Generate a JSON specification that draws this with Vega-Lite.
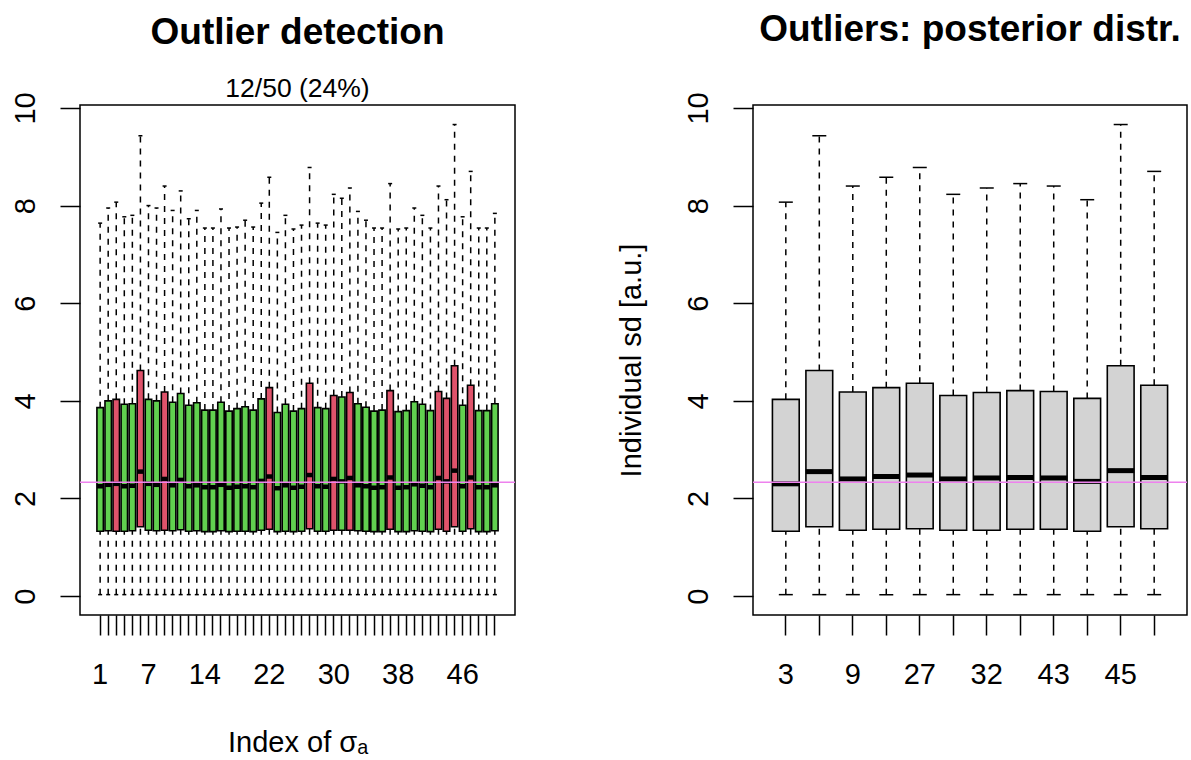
{
  "$schema": "https://vega.github.io/schema/vega-lite/v6.json",
  "background": "white",
  "padding": {"left": 10, "top": 10, "right": 0, "bottom": 0},
  "spacing": 99,
  "config": {
    "font": "Liberation Sans",
    "view": {"stroke": "black", "strokeWidth": 1.5},
    "axis": {"domain": false, "grid": false, "tickColor": "black", "tickWidth": 1.5, "tickSize": 20, "labelFont": "Liberation Sans", "labelFontSize": 29, "labelColor": "black", "titleColor": "black", "titleFont": "Liberation Sans", "titleFontSize": 29, "titleFontWeight": "normal", "labelOverlap": false, "labelFlush": false},
    "tick": {"opacity": 1},
    "title": {"font": "Liberation Sans", "fontSize": 37, "fontWeight": "bold", "color": "black", "subtitleFont": "Liberation Sans", "subtitleFontSize": 26.5, "subtitleColor": "black", "anchor": "middle", "frame": "group"}
  },
  "datasets": {
    "sd": [
      {"i": 1, "q1": 1.33, "med": 2.25, "q3": 3.86, "hi": 7.64, "lo": 0.03, "out": false},
      {"i": 2, "q1": 1.34, "med": 2.28, "q3": 4.00, "hi": 7.95, "lo": 0.03, "out": false},
      {"i": 3, "q1": 1.33, "med": 2.30, "q3": 4.03, "hi": 8.07, "lo": 0.03, "out": true},
      {"i": 4, "q1": 1.33, "med": 2.25, "q3": 3.93, "hi": 7.77, "lo": 0.03, "out": false},
      {"i": 5, "q1": 1.34, "med": 2.26, "q3": 3.94, "hi": 7.80, "lo": 0.03, "out": false},
      {"i": 6, "q1": 1.42, "med": 2.55, "q3": 4.62, "hi": 9.43, "lo": 0.03, "out": true},
      {"i": 7, "q1": 1.35, "med": 2.30, "q3": 4.03, "hi": 8.00, "lo": 0.03, "out": false},
      {"i": 8, "q1": 1.34, "med": 2.28, "q3": 4.00, "hi": 7.95, "lo": 0.03, "out": false},
      {"i": 9, "q1": 1.35, "med": 2.40, "q3": 4.18, "hi": 8.40, "lo": 0.03, "out": true},
      {"i": 10, "q1": 1.34, "med": 2.27, "q3": 3.97, "hi": 7.90, "lo": 0.03, "out": false},
      {"i": 11, "q1": 1.36, "med": 2.38, "q3": 4.15, "hi": 8.30, "lo": 0.03, "out": false},
      {"i": 12, "q1": 1.33, "med": 2.25, "q3": 3.91, "hi": 7.73, "lo": 0.03, "out": false},
      {"i": 13, "q1": 1.34, "med": 2.27, "q3": 3.96, "hi": 7.90, "lo": 0.03, "out": false},
      {"i": 14, "q1": 1.32, "med": 2.23, "q3": 3.81, "hi": 7.54, "lo": 0.03, "out": false},
      {"i": 15, "q1": 1.32, "med": 2.23, "q3": 3.81, "hi": 7.54, "lo": 0.03, "out": false},
      {"i": 16, "q1": 1.34, "med": 2.28, "q3": 3.97, "hi": 7.93, "lo": 0.03, "out": false},
      {"i": 17, "q1": 1.32, "med": 2.22, "q3": 3.79, "hi": 7.54, "lo": 0.03, "out": false},
      {"i": 18, "q1": 1.33, "med": 2.24, "q3": 3.84, "hi": 7.56, "lo": 0.03, "out": false},
      {"i": 19, "q1": 1.33, "med": 2.25, "q3": 3.88, "hi": 7.70, "lo": 0.03, "out": false},
      {"i": 20, "q1": 1.32, "med": 2.23, "q3": 3.81, "hi": 7.56, "lo": 0.03, "out": false},
      {"i": 21, "q1": 1.35, "med": 2.36, "q3": 4.04, "hi": 8.05, "lo": 0.03, "out": false},
      {"i": 22, "q1": 1.37, "med": 2.45, "q3": 4.27, "hi": 8.58, "lo": 0.03, "out": true},
      {"i": 23, "q1": 1.32, "med": 2.21, "q3": 3.76, "hi": 7.45, "lo": 0.03, "out": false},
      {"i": 24, "q1": 1.33, "med": 2.27, "q3": 3.93, "hi": 7.80, "lo": 0.03, "out": false},
      {"i": 25, "q1": 1.32, "med": 2.22, "q3": 3.79, "hi": 7.52, "lo": 0.03, "out": false},
      {"i": 26, "q1": 1.33, "med": 2.24, "q3": 3.84, "hi": 7.60, "lo": 0.03, "out": false},
      {"i": 27, "q1": 1.38, "med": 2.48, "q3": 4.36, "hi": 8.78, "lo": 0.03, "out": true},
      {"i": 28, "q1": 1.33, "med": 2.25, "q3": 3.86, "hi": 7.64, "lo": 0.03, "out": false},
      {"i": 29, "q1": 1.33, "med": 2.24, "q3": 3.84, "hi": 7.60, "lo": 0.03, "out": false},
      {"i": 30, "q1": 1.35, "med": 2.40, "q3": 4.11, "hi": 8.23, "lo": 0.03, "out": true},
      {"i": 31, "q1": 1.35, "med": 2.35, "q3": 4.08, "hi": 8.15, "lo": 0.03, "out": false},
      {"i": 32, "q1": 1.35, "med": 2.42, "q3": 4.17, "hi": 8.36, "lo": 0.03, "out": true},
      {"i": 33, "q1": 1.34, "med": 2.27, "q3": 3.94, "hi": 7.88, "lo": 0.03, "out": false},
      {"i": 34, "q1": 1.33, "med": 2.25, "q3": 3.87, "hi": 7.70, "lo": 0.03, "out": false},
      {"i": 35, "q1": 1.32, "med": 2.22, "q3": 3.79, "hi": 7.54, "lo": 0.03, "out": false},
      {"i": 36, "q1": 1.32, "med": 2.23, "q3": 3.81, "hi": 7.54, "lo": 0.03, "out": false},
      {"i": 37, "q1": 1.37, "med": 2.43, "q3": 4.21, "hi": 8.45, "lo": 0.03, "out": true},
      {"i": 38, "q1": 1.32, "med": 2.22, "q3": 3.78, "hi": 7.52, "lo": 0.03, "out": false},
      {"i": 39, "q1": 1.32, "med": 2.23, "q3": 3.80, "hi": 7.54, "lo": 0.03, "out": false},
      {"i": 40, "q1": 1.34, "med": 2.29, "q3": 3.98, "hi": 7.95, "lo": 0.03, "out": false},
      {"i": 41, "q1": 1.33, "med": 2.26, "q3": 3.93, "hi": 7.80, "lo": 0.03, "out": false},
      {"i": 42, "q1": 1.32, "med": 2.23, "q3": 3.80, "hi": 7.54, "lo": 0.03, "out": false},
      {"i": 43, "q1": 1.37, "med": 2.42, "q3": 4.19, "hi": 8.40, "lo": 0.03, "out": true},
      {"i": 44, "q1": 1.33, "med": 2.35, "q3": 4.05, "hi": 8.12, "lo": 0.03, "out": true},
      {"i": 45, "q1": 1.42, "med": 2.57, "q3": 4.72, "hi": 9.66, "lo": 0.03, "out": true},
      {"i": 46, "q1": 1.33, "med": 2.25, "q3": 3.91, "hi": 7.77, "lo": 0.03, "out": false},
      {"i": 47, "q1": 1.38, "med": 2.43, "q3": 4.32, "hi": 8.70, "lo": 0.03, "out": true},
      {"i": 48, "q1": 1.32, "med": 2.23, "q3": 3.80, "hi": 7.54, "lo": 0.03, "out": false},
      {"i": 49, "q1": 1.32, "med": 2.23, "q3": 3.80, "hi": 7.54, "lo": 0.03, "out": false},
      {"i": 50, "q1": 1.34, "med": 2.27, "q3": 3.94, "hi": 7.84, "lo": 0.03, "out": false}
    ],
    "ref": [{"h": 2.33}]
  },
  "hconcat": [
    {
      "width": 435,
      "height": 510,
      "title": {"text": "Outlier detection", "subtitle": "12/50 (24%)", "offset": -12, "subtitlePadding": 24},
      "layer": [
        {
          "data": {"name": "sd"},
          "mark": {"type": "rule", "strokeDash": [6, 6], "strokeWidth": 1.5, "color": "black"},
          "encoding": {
            "x": {"field": "i", "type": "ordinal", "scale": {"domain": [-1, 0, 1, 2, 3, 4, 5, 6, 7, 8, 9, 10, 11, 12, 13, 14, 15, 16, 17, 18, 19, 20, 21, 22, 23, 24, 25, 26, 27, 28, 29, 30, 31, 32, 33, 34, 35, 36, 37, 38, 39, 40, 41, 42, 43, 44, 45, 46, 47, 48, 49, 50, 51, 52], "paddingInner": 0.2, "paddingOuter": 0.1}, "axis": {"title": "Index of σₐ", "values": [1, 2, 3, 4, 5, 6, 7, 8, 9, 10, 11, 12, 13, 14, 15, 16, 17, 18, 19, 20, 21, 22, 23, 24, 25, 26, 27, 28, 29, 30, 31, 32, 33, 34, 35, 36, 37, 38, 39, 40, 41, 42, 43, 44, 45, 46, 47, 48, 49, 50], "labelAngle": 0, "labelPadding": 25, "titlePadding": 39, "labelExpr": "indexof([1,7,14,22,30,38,46], datum.value) >= 0 ? datum.label : ''"}},
            "y": {"field": "q3", "type": "quantitative", "scale": {"domain": [-0.387, 10.06], "nice": false, "zero": false}, "axis": {"title": null, "values": [0, 2, 4, 6, 8, 10], "labelAngle": -90, "labelAlign": "center", "labelBaseline": "alphabetic", "labelPadding": 26}},
            "y2": {"field": "hi"}
          }
        },
        {
          "data": {"name": "sd"},
          "mark": {"type": "rule", "strokeDash": [6, 6], "strokeWidth": 1.5, "color": "black"},
          "encoding": {
            "x": {"field": "i", "type": "ordinal"},
            "y": {"field": "lo", "type": "quantitative"},
            "y2": {"field": "q1"}
          }
        },
        {
          "data": {"name": "sd"},
          "mark": {"type": "tick", "size": 4, "thickness": 1.5, "color": "black", "opacity": 1},
          "encoding": {"x": {"field": "i", "type": "ordinal"}, "y": {"field": "hi", "type": "quantitative"}}
        },
        {
          "data": {"name": "sd"},
          "mark": {"type": "tick", "size": 4, "thickness": 1.5, "color": "black", "opacity": 1},
          "encoding": {"x": {"field": "i", "type": "ordinal"}, "y": {"field": "lo", "type": "quantitative"}}
        },
        {
          "data": {"name": "sd"},
          "mark": {"type": "bar", "stroke": "black", "strokeWidth": 1.6},
          "encoding": {
            "x": {"field": "i", "type": "ordinal"},
            "y": {"field": "q1", "type": "quantitative"},
            "y2": {"field": "q3"},
            "fill": {"field": "out", "type": "nominal", "scale": {"domain": [false, true], "range": ["#61D04F", "#DF536B"]}, "legend": null}
          }
        },
        {
          "data": {"name": "sd"},
          "mark": {"type": "tick", "size": 6.5, "thickness": 4.5, "color": "black", "opacity": 1},
          "encoding": {"x": {"field": "i", "type": "ordinal"}, "y": {"field": "med", "type": "quantitative"}}
        },
        {
          "data": {"name": "ref"},
          "mark": {"type": "rule", "color": "#EE82EE", "strokeWidth": 1.5},
          "encoding": {"y": {"field": "h", "type": "quantitative"}}
        }
      ]
    },
    {
      "width": 434,
      "height": 510,
      "title": {"text": "Outliers: posterior distr.", "offset": 43},
      "layer": [
        {
          "data": {"name": "sd"},
          "transform": [{"filter": {"field": "out", "equal": true}}],
          "mark": {"type": "rule", "strokeDash": [6, 6], "strokeWidth": 1.5, "color": "black"},
          "encoding": {
            "x": {"field": "i", "type": "ordinal", "scale": {"paddingInner": 0.2, "paddingOuter": 0.58}, "axis": {"title": null, "labelAngle": 0, "labelPadding": 25, "labelExpr": "indexof([3,9,27,32,43,45], datum.value) >= 0 ? datum.label : ''"}},
            "y": {"field": "q3", "type": "quantitative", "scale": {"domain": [-0.387, 10.06], "nice": false, "zero": false}, "axis": {"title": "Individual sd [a.u.]", "titlePadding": 38, "values": [0, 2, 4, 6, 8, 10], "labelAngle": -90, "labelAlign": "center", "labelBaseline": "alphabetic", "labelPadding": 26}},
            "y2": {"field": "hi"}
          }
        },
        {
          "data": {"name": "sd"},
          "transform": [{"filter": {"field": "out", "equal": true}}],
          "mark": {"type": "rule", "strokeDash": [6, 6], "strokeWidth": 1.5, "color": "black"},
          "encoding": {
            "x": {"field": "i", "type": "ordinal"},
            "y": {"field": "lo", "type": "quantitative"},
            "y2": {"field": "q1"}
          }
        },
        {
          "data": {"name": "sd"},
          "transform": [{"filter": {"field": "out", "equal": true}}],
          "mark": {"type": "tick", "size": 14, "thickness": 1.5, "color": "black", "opacity": 1},
          "encoding": {"x": {"field": "i", "type": "ordinal"}, "y": {"field": "hi", "type": "quantitative"}}
        },
        {
          "data": {"name": "sd"},
          "transform": [{"filter": {"field": "out", "equal": true}}],
          "mark": {"type": "tick", "size": 14, "thickness": 1.5, "color": "black", "opacity": 1},
          "encoding": {"x": {"field": "i", "type": "ordinal"}, "y": {"field": "lo", "type": "quantitative"}}
        },
        {
          "data": {"name": "sd"},
          "transform": [{"filter": {"field": "out", "equal": true}}],
          "mark": {"type": "bar", "stroke": "black", "strokeWidth": 1.6, "fill": "#D3D3D3"},
          "encoding": {
            "x": {"field": "i", "type": "ordinal"},
            "y": {"field": "q1", "type": "quantitative"},
            "y2": {"field": "q3"}
          }
        },
        {
          "data": {"name": "sd"},
          "transform": [{"filter": {"field": "out", "equal": true}}],
          "mark": {"type": "tick", "size": 27, "thickness": 5, "color": "black", "opacity": 1},
          "encoding": {"x": {"field": "i", "type": "ordinal"}, "y": {"field": "med", "type": "quantitative"}}
        },
        {
          "data": {"name": "ref"},
          "mark": {"type": "rule", "color": "#EE82EE", "strokeWidth": 1.5},
          "encoding": {"y": {"field": "h", "type": "quantitative"}}
        }
      ]
    }
  ]
}
